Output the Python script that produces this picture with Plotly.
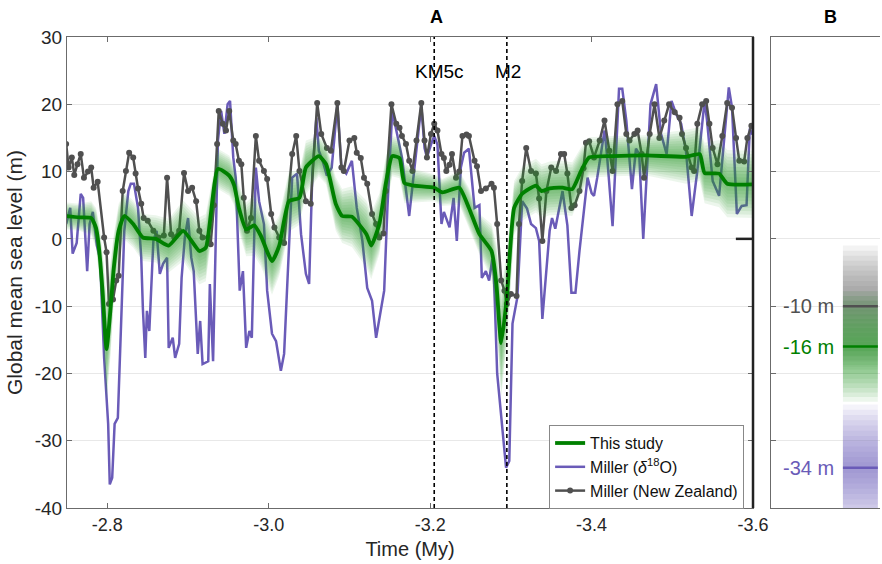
import plotly.graph_objects as go

# ---------------- data ----------------
# "This study" (green): time (My), sea level (m), outer half-width of uncertainty band (m)
study_t = [-2.749, -2.765, -2.780, -2.786, -2.790, -2.794, -2.799, -2.804, -2.808, -2.814,
           -2.821, -2.832, -2.844, -2.860, -2.876, -2.894, -2.914, -2.922, -2.937, -2.951,
           -2.957, -2.963, -2.972, -2.982, -2.990, -3.004, -3.013, -3.025, -3.038, -3.046,
           -3.062, -3.071, -3.083, -3.091, -3.103, -3.121, -3.127, -3.137, -3.145, -3.153,
           -3.162, -3.168, -3.180, -3.205, -3.215, -3.236, -3.248, -3.261, -3.276, -3.282,
           -3.288, -3.295, -3.304, -3.314, -3.331, -3.338, -3.348, -3.364, -3.376, -3.387,
           -3.397, -3.426, -3.468, -3.517, -3.534, -3.540, -3.558, -3.568, -3.600]
study_sl = [3.4, 3.2, 3.1, 1.6, -1.8, -7.7, -16.4, -10.3, -4.3, 1.2,
            3.4, 2.2, 0.2, 0.0, -1.0, 1.2, -1.8, -1.3, 10.4, 9.4,
            8.0, 4.6, 1.4, 2.0, 0.5, -3.3, -1.0, 5.6, 6.1, 10.6,
            12.3, 11.1, 5.2, 3.4, 3.3, 0.7, -1.0, 2.2, 8.2, 12.3,
            12.0, 8.3, 7.9, 7.6, 6.9, 7.6, 4.6, 0.7, -1.8, -6.7,
            -15.5, -8.7, 4.6, 6.7, 7.9, 7.1, 7.5, 7.6, 7.4, 10.1,
            12.1, 12.3, 12.4, 12.2, 12.6, 9.8, 9.7, 8.2, 8.1]
study_sig = [2.0, 2.0, 2.5, 3.0, 4.0, 6.0, 8.0, 7.0, 5.0, 4.0,
             3.5, 3.5, 3.5, 3.5, 4.0, 4.5, 5.0, 5.0, 3.0, 3.0,
             3.0, 3.5, 4.0, 4.5, 4.5, 5.0, 4.5, 4.5, 4.0, 4.0,
             3.0, 3.0, 4.0, 4.0, 4.5, 5.0, 5.0, 4.5, 4.0, 3.0,
             3.0, 3.0, 2.5, 2.0, 2.0, 2.5, 3.0, 3.0, 4.0, 6.0,
             8.0, 7.0, 4.0, 4.0, 4.0, 4.0, 4.0, 4.0, 4.0, 3.5,
             3.0, 3.0, 3.0, 4.0, 4.0, 4.5, 5.0, 5.0, 5.0]

# Miller (delta18O) (purple)
miller_t = [-2.749, -2.754, -2.757, -2.762, -2.767, -2.770, -2.775, -2.778, -2.782, -2.787,
            -2.791, -2.796, -2.801, -2.803, -2.806, -2.809, -2.813, -2.817, -2.821, -2.826,
            -2.829, -2.833, -2.838, -2.842, -2.844, -2.847, -2.849, -2.852, -2.857, -2.861,
            -2.865, -2.869, -2.874, -2.876, -2.881, -2.884, -2.889, -2.892, -2.896, -2.900,
            -2.904, -2.907, -2.912, -2.915, -2.918, -2.925, -2.927, -2.931, -2.937, -2.941,
            -2.945, -2.949, -2.952, -2.956, -2.959, -2.964, -2.968, -2.972, -2.976, -2.979,
            -2.984, -2.988, -2.994, -2.998, -3.004, -3.009, -3.015, -3.019, -3.025, -3.029,
            -3.035, -3.040, -3.046, -3.050, -3.054, -3.059, -3.062, -3.067, -3.072, -3.078,
            -3.085, -3.090, -3.096, -3.103, -3.109, -3.116, -3.122, -3.128, -3.133, -3.139,
            -3.143, -3.147, -3.153, -3.159, -3.165, -3.174, -3.180, -3.184, -3.189, -3.193,
            -3.196, -3.201, -3.205, -3.209, -3.214, -3.217, -3.224, -3.229, -3.233, -3.238,
            -3.242, -3.248, -3.255, -3.261, -3.264, -3.269, -3.273, -3.277, -3.279, -3.283,
            -3.289, -3.294, -3.298, -3.302, -3.308, -3.314, -3.320, -3.325, -3.331, -3.335,
            -3.339, -3.344, -3.348, -3.351, -3.355, -3.364, -3.370, -3.375, -3.380, -3.385,
            -3.391, -3.395, -3.400, -3.403, -3.407, -3.416, -3.419, -3.426, -3.434, -3.438,
            -3.443, -3.450, -3.455, -3.459, -3.464, -3.473, -3.480, -3.486, -3.493, -3.499,
            -3.505, -3.511, -3.517, -3.524, -3.531, -3.540, -3.543, -3.550, -3.558, -3.562,
            -3.570, -3.574, -3.580, -3.586, -3.592, -3.596, -3.599]
miller_d18o = [2.2, 4.6, -2.2, -0.6, 6.7, 6.1, -4.8, 2.2, 4.0, -1.0,
               -3.0, -17.7, -27.5, -36.5, -35.5, -27.5, -26.6, -12.6, 1.2, 7.1,
               8.2, 8.2, 4.6, -2.8, -10.3, -17.7, -10.7, -13.7, -0.3, 1.2,
               -5.2, -3.7, -2.8, -16.2, -14.7, -17.7, -15.6, -5.8, 0.2, 3.1,
               -2.8, -4.8, -17.1, -12.2, -18.6, -18.2, -6.7, -18.2, 14.6, 19.0,
               15.6, 20.0, 20.5, 12.1, 9.1, -7.7, -4.8, -16.2, -13.7, -14.7,
               10.6, 5.6, 2.2, -7.7, -14.1, -15.2, -19.6, -17.1, -1.3, 9.1,
               9.7, 0.7, -5.2, -6.7, 9.7, 18.0, 13.1, 11.5, 9.4, 10.6,
               20.0, 10.6, 9.7, 11.6, 4.6, -0.3, -7.3, -9.2, -14.7, -10.3,
               -7.7, 4.6, 19.0, 15.6, 12.1, 3.4, 10.1, 14.6, 19.8, 13.5,
               12.1, 14.0, 15.3, 14.0, 2.2, 4.0, 1.7, 6.1, -0.3, 10.6,
               12.8, 13.4, 4.6, 5.0, -5.8, -4.8, -6.2, -3.0, -5.5, -20.0,
               -27.5, -34.0, -33.0, -12.6, -8.7, 5.6, 4.5, 2.2, 1.6, -0.3,
               -11.9, -5.0, 1.2, 3.1, 1.5, 7.1, 2.0, -8.0, -8.0, -1.8,
               5.2, 9.1, 6.8, 6.4, 9.1, 16.1, 12.6, 1.9, 22.3, 22.3,
               17.6, 7.4, 13.4, 12.6, 0.0, 20.0, 23.0, 15.6, 12.6, 20.5,
               18.5, 17.1, 13.0, 3.4, 10.1, 20.5, 17.6, 8.6, 6.4, 12.0,
               22.5, 19.5, 3.7, 4.9, 5.0, 16.4, 15.5]

# Miller (New Zealand) (gray, with markers)
nz_t = [-2.749, -2.752, -2.756, -2.759, -2.763, -2.767, -2.771, -2.776, -2.780, -2.783,
        -2.788, -2.796, -2.799, -2.802, -2.807, -2.811, -2.814, -2.819, -2.823, -2.827,
        -2.832, -2.835, -2.838, -2.842, -2.845, -2.850, -2.857, -2.863, -2.870, -2.874,
        -2.879, -2.883, -2.889, -2.895, -2.900, -2.905, -2.910, -2.914, -2.918, -2.925,
        -2.928, -2.932, -2.936, -2.938, -2.943, -2.947, -2.951, -2.956, -2.959, -2.963,
        -2.966, -2.969, -2.973, -2.978, -2.984, -2.988, -2.994, -2.998, -3.003, -3.007,
        -3.013, -3.019, -3.029, -3.034, -3.038, -3.046, -3.052, -3.060, -3.065, -3.072,
        -3.077, -3.085, -3.090, -3.093, -3.100, -3.106, -3.109, -3.114, -3.118, -3.122,
        -3.128, -3.133, -3.137, -3.142, -3.145, -3.152, -3.158, -3.162, -3.165, -3.170,
        -3.174, -3.178, -3.183, -3.189, -3.193, -3.196, -3.201, -3.205, -3.209, -3.214,
        -3.217, -3.220, -3.224, -3.227, -3.232, -3.236, -3.240, -3.245, -3.248, -3.255,
        -3.258, -3.263, -3.269, -3.276, -3.279, -3.283, -3.288, -3.292, -3.295, -3.300,
        -3.307, -3.310, -3.314, -3.319, -3.325, -3.331, -3.335, -3.339, -3.344, -3.350,
        -3.356, -3.362, -3.366, -3.370, -3.375, -3.379, -3.385, -3.390, -3.393, -3.397,
        -3.403, -3.410, -3.416, -3.422, -3.426, -3.432, -3.438, -3.443, -3.447, -3.453,
        -3.457, -3.462, -3.465, -3.472, -3.478, -3.484, -3.490, -3.496, -3.503, -3.509,
        -3.512, -3.517, -3.524, -3.527, -3.531, -3.537, -3.542, -3.546, -3.550, -3.556,
        -3.562, -3.568, -3.574, -3.579, -3.583, -3.589, -3.593, -3.598]
nz_sl = [14.1, 10.6, 12.1, 9.5, 11.1, 12.6, 9.1, 10.0, 10.6, 7.6,
         8.5, 0.2, -2.0, -9.7, -9.0, -6.2, -5.5, 7.1, 10.1, 12.8,
         12.1, 9.7, 7.5, 5.2, 3.1, 2.7, 1.2, 0.2, 0.5, 9.1,
         0.7, 0.2, 1.2, 9.8, 7.1, 7.6, 5.6, 1.2, 0.2, 0.2,
         -0.8, 5.0, 14.1, 19.0, 17.1, 16.1, 19.0, 14.6, 14.1, 11.6,
         11.1, 6.1, 1.2, 3.1, 15.3, 11.6, 10.1, 8.9, 3.7, 1.7,
         0.2, -0.6, 12.6, 15.3, 10.1, 5.6, 5.2, 20.2, 15.6, 13.5,
         13.1, 20.2, 10.6, 10.1, 14.6, 15.0, 12.8, 12.0, 9.1, 8.2,
         3.7, 2.2, 0.2, 0.8, 7.1, 20.0, 17.1, 16.5, 15.3, 14.1,
         11.6, 10.1, 14.6, 20.2, 14.6, 12.1, 15.6, 17.1, 16.1, 12.6,
         12.0, 10.1, 11.0, 12.6, 9.1, 10.0, 15.3, 15.5, 15.3, 11.6,
         10.8, 7.1, 7.5, 8.2, 7.6, 2.2, -6.2, -7.7, -9.7, -8.2,
         -8.5, 2.2, 8.6, 13.5, 10.1, 9.7, 6.0, -0.3, 7.1, 10.6,
         10.1, 12.6, 12.6, 9.7, 4.6, 5.0, 7.1, 10.5, 14.3, 14.5,
         12.1, 14.6, 17.6, 13.1, 10.1, 20.0, 20.5, 15.6, 14.6, 15.6,
         16.1, 12.6, 9.1, 15.6, 20.0, 15.0, 17.6, 20.0, 18.8, 18.0,
         15.6, 13.5, 10.6, 10.1, 17.1, 20.0, 20.5, 17.1, 13.5, 11.1,
         15.3, 20.2, 19.5, 15.0, 11.6, 11.5, 15.0, 16.8]

# glacial events
event_t = [-3.205, -3.295]
event_labels = ["KM5c", "M2"]
event_label_t = [-3.211, -3.297]

# panel B: estimates of the M2 lowstand
b_centers = [-10, -16, -34]
b_halfwidth = [9.0, 8.2, 9.4]
b_labels = ["-10 m", "-16 m", "-34 m"]

# axes ticks
x_ticks = [-2.8, -3.0, -3.2, -3.4, -3.6]
x_tick_labels = ["-2.8", "-3.0", "-3.2", "-3.4", "-3.6"]
y_ticks = [-40, -30, -20, -10, 0, 10, 20, 30]
y_tick_labels = ["-40", "-30", "-20", "-10", "0", "10", "20", "30"]

# ---------------- style ----------------
GREEN = "#008000"
PURPLE = "#6a5bb8"
GRAY = "#505050"
AXC = "#6b6b6b"
FONT = "Liberation Sans, Arial, Helvetica, sans-serif"
DOM_A = [0.0, 0.8438]
DOM_B = [0.8659, 1.0]

fig = go.Figure()

fig.add_trace(go.Scatter(x=miller_t, y=miller_d18o, mode="lines",
                         line=dict(color=PURPLE, width=2.5),
                         name="Miller (<i>δ</i><sup>18</sup>O)", legendrank=2,
                         hoverinfo="skip"))
fig.add_trace(go.Scatter(x=nz_t, y=nz_sl, mode="lines+markers",
                         line=dict(color=GRAY, width=2.5),
                         marker=dict(size=6, color=GRAY),
                         name="Miller (New Zealand)", legendrank=3,
                         hoverinfo="skip"))

n_layers = 10
for k in range(n_layers, 0, -1):
    f = k / n_layers
    up = [m + s * f for m, s in zip(study_sl, study_sig)]
    lo = [m - s * f for m, s in zip(study_sl, study_sig)]
    fig.add_trace(go.Scatter(x=study_t + study_t[::-1], y=up + lo[::-1],
                             fill="toself", fillcolor="rgba(40,155,40,0.085)",
                             line=dict(width=0), mode="lines",
                             showlegend=False, hoverinfo="skip"))

fig.add_trace(go.Scatter(x=study_t, y=study_sl, mode="lines",
                         line=dict(color=GREEN, width=3.8, shape="spline", smoothing=0.5),
                         name="This study", legendrank=1, hoverinfo="skip"))

# panel B bands
band_cols = ["rgba(90,90,90,0.075)", "rgba(40,150,40,0.085)", "rgba(106,91,184,0.075)"]
line_cols = [GRAY, GREEN, PURPLE]
bx0, bx1 = 0.66, 0.98
nb = 12
for c, h, bc in zip(b_centers, b_halfwidth, band_cols):
    for k in range(nb, 0, -1):
        f = k / nb
        fig.add_trace(go.Scatter(x=[bx0, bx1, bx1, bx0, bx0],
                                 y=[c - h * f, c - h * f, c + h * f, c + h * f, c - h * f],
                                 xaxis="x2", yaxis="y2", fill="toself", fillcolor=bc,
                                 line=dict(width=0), mode="lines",
                                 showlegend=False, hoverinfo="skip"))
for c, lc in zip(b_centers, line_cols):
    fig.add_trace(go.Scatter(x=[bx0, bx1], y=[c, c], xaxis="x2", yaxis="y2",
                             mode="lines", line=dict(color=lc, width=2.5),
                             showlegend=False, hoverinfo="skip"))

shapes = []
for t in event_t:
    shapes.append(dict(type="line", xref="x", yref="y domain", x0=t, x1=t, y0=0, y1=1,
                       line=dict(color="black", width=1.6, dash="4px,3px"), layer="above"))
# thick right frame of panel A
shapes.append(dict(type="line", xref="paper", yref="y domain", x0=DOM_A[1], x1=DOM_A[1],
                   y0=0, y1=1, line=dict(color="#222222", width=2.5), layer="above"))
shapes.append(dict(type="line", xref="x domain", yref="y", x0=0.975, x1=1.0, y0=0, y1=0,
                   line=dict(color="#222222", width=2.5), layer="above"))

annotations = []
for t, lab in zip(event_label_t, event_labels):
    annotations.append(dict(x=t, y=24.9, xref="x", yref="y", text=lab, showarrow=False,
                            xanchor="center", yanchor="middle",
                            font=dict(size=19, color="black", family=FONT)))
for c, lab, lc in zip(b_centers, b_labels, line_cols):
    annotations.append(dict(x=0.34, y=c, xref="x2", yref="y2", text=lab, showarrow=False,
                            xanchor="center", yanchor="middle",
                            font=dict(size=20, color=lc, family=FONT)))
annotations.append(dict(x=0.455, y=1.043, xref="paper", yref="paper", text="<b>A</b>",
                        showarrow=False, xanchor="center", yanchor="middle",
                        font=dict(size=18, color="black", family=FONT)))
annotations.append(dict(x=0.9385, y=1.043, xref="paper", yref="paper", text="<b>B</b>",
                        showarrow=False, xanchor="center", yanchor="middle",
                        font=dict(size=18, color="black", family=FONT)))

fig.update_layout(
    template="none",
    width=882, height=564,
    autosize=False,
    margin=dict(l=67, r=2, t=37, b=56, pad=0, autoexpand=False),
    paper_bgcolor="white", plot_bgcolor="white",
    font=dict(family=FONT, size=18, color="#262626"),
    showlegend=True,
    legend=dict(x=0.593, y=0.176, xanchor="left", yanchor="top",
                bgcolor="white", bordercolor="#888888", borderwidth=1,
                font=dict(size=16, color="#111111", family=FONT),
                traceorder="normal", itemwidth=30, tracegroupgap=0),
    xaxis=dict(domain=DOM_A, range=[-2.75, -3.6], tickvals=x_ticks, ticktext=x_tick_labels,
               ticks="inside", ticklen=5, tickcolor=AXC, showline=True, linecolor=AXC,
               linewidth=1, mirror="ticks", showgrid=False, zeroline=False,
               automargin=False, tickfont=dict(size=18),
               title=dict(text="Time (My)", font=dict(size=20, color="#262626"), standoff=8),
               anchor="y"),
    yaxis=dict(domain=[0, 1], range=[-40, 30], tickvals=y_ticks, ticktext=y_tick_labels,
               ticks="inside", ticklen=5, tickcolor=AXC, showline=True, linecolor=AXC,
               linewidth=1, mirror="ticks", showgrid=True, gridcolor="#e8e8e8",
               zeroline=False, anchor="x", tickfont=dict(size=19), automargin=False,
               title=dict(text="Global mean sea level (m)", font=dict(size=21, color="#262626"),
                          standoff=6)),
    xaxis2=dict(domain=DOM_B, range=[0, 1], showticklabels=False, ticks="",
                showline=True, linecolor=AXC, mirror=True, showgrid=False,
                zeroline=False, anchor="y2", automargin=False),
    yaxis2=dict(domain=[0, 1], range=[-40, 30], tickvals=y_ticks, showticklabels=False,
                ticks="inside", ticklen=5, tickcolor=AXC, showline=True, linecolor=AXC,
                showgrid=True, gridcolor="#e8e8e8", zeroline=False, anchor="x2",
                automargin=False),
    shapes=shapes,
    annotations=annotations,
)

fig.write_html("out.html", config={"displayModeBar": False},
               post_script="document.body.style.margin='0px';")
